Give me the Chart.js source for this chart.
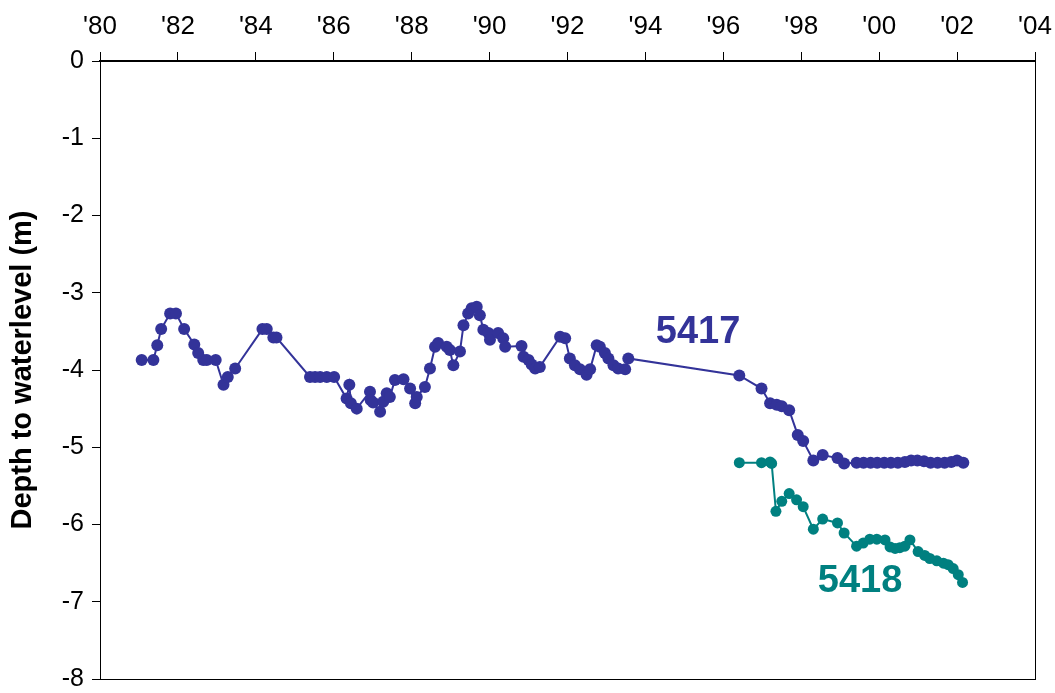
<!DOCTYPE html>
<html>
<head>
<meta charset="utf-8">
<script src="https://cdn.jsdelivr.net/npm/chart.js@4/dist/chart.umd.min.js"></script>
<style>
  html, body { margin: 0; padding: 0; background: #fff; }
  #wrap { position: relative; width: 1055px; height: 693px; }
</style>
</head>
<body>
<div id="wrap"><canvas id="chart"></canvas></div>
<script>
// well 5417
const years5417 = [
  1981.07, 1981.37, 1981.47, 1981.57, 1981.80, 1981.95, 1982.16, 1982.42, 1982.52, 1982.65,
  1982.74, 1982.97, 1983.17, 1983.28, 1983.47, 1984.17, 1984.28, 1984.45, 1984.53, 1985.39,
  1985.52, 1985.65, 1985.82, 1986.01, 1986.33, 1986.40, 1986.44, 1986.59, 1986.93, 1986.95,
  1987.01, 1987.19, 1987.27, 1987.36, 1987.44, 1987.57, 1987.79, 1987.96, 1988.09, 1988.13,
  1988.34, 1988.47, 1988.60, 1988.68, 1988.90, 1988.98, 1989.07, 1989.24, 1989.33, 1989.45,
  1989.54, 1989.67, 1989.75, 1989.84, 1989.97, 1990.01, 1990.22, 1990.35, 1990.40, 1990.82,
  1990.87, 1991.00, 1991.08, 1991.17, 1991.29, 1991.81, 1991.94, 1992.06, 1992.19, 1992.32,
  1992.49, 1992.58, 1992.75, 1992.83, 1992.96, 1993.05, 1993.18, 1993.30, 1993.48, 1993.56,
  1996.41, 1996.98, 1997.20, 1997.37, 1997.50, 1997.69, 1997.91, 1998.05, 1998.31, 1998.55,
  1998.93, 1999.10, 1999.42, 1999.60, 1999.78, 1999.95, 2000.13, 2000.30, 2000.48, 2000.66,
  2000.82, 2000.98, 2001.15, 2001.32, 2001.50, 2001.68, 2001.85, 2002.00, 2002.16
];
const depth5417 = [
  -3.87, -3.87, -3.68, -3.47, -3.27, -3.27, -3.47, -3.67, -3.78, -3.87,
  -3.87, -3.87, -4.19, -4.09, -3.98, -3.47, -3.47, -3.58, -3.58, -4.09,
  -4.09, -4.09, -4.09, -4.09, -4.37, -4.19, -4.43, -4.50, -4.28, -4.39,
  -4.42, -4.54, -4.41, -4.30, -4.35, -4.13, -4.12, -4.24, -4.43, -4.35,
  -4.22, -3.98, -3.70, -3.65, -3.70, -3.74, -3.94, -3.76, -3.42, -3.27,
  -3.20, -3.18, -3.29, -3.48, -3.52, -3.61, -3.52, -3.59, -3.70, -3.69,
  -3.83, -3.87, -3.93, -3.98, -3.96, -3.57, -3.59, -3.85, -3.94, -3.99,
  -4.06, -3.99, -3.68, -3.70, -3.78, -3.85, -3.94, -3.98, -3.99, -3.85,
  -4.07, -4.24, -4.43, -4.45, -4.47, -4.52, -4.84, -4.92, -5.17, -5.10,
  -5.14, -5.21, -5.20, -5.20, -5.20, -5.20, -5.20, -5.20, -5.20, -5.19,
  -5.17, -5.17, -5.18, -5.20, -5.20, -5.20, -5.19, -5.17, -5.20
];

// well 5418
const years5418 = [
  1996.41, 1996.98, 1997.20, 1997.24, 1997.35, 1997.50, 1997.69, 1997.88, 1998.05, 1998.31,
  1998.55, 1998.93, 1999.10, 1999.42, 1999.59, 1999.76, 1999.94, 2000.15, 2000.28, 2000.41,
  2000.53, 2000.66, 2000.79, 2001.00, 2001.17, 2001.30, 2001.48, 2001.65, 2001.77, 2001.90,
  2002.03, 2002.14
];
const depth5418 = [
  -5.20, -5.20, -5.19, -5.21, -5.83, -5.70, -5.60, -5.68, -5.77, -6.06,
  -5.93, -5.98, -6.11, -6.28, -6.24, -6.19, -6.19, -6.20, -6.29, -6.31,
  -6.30, -6.28, -6.20, -6.35, -6.40, -6.44, -6.47, -6.50, -6.52, -6.57,
  -6.65, -6.75
];

// series labels, placed in data units
const seriesLabels = [
  { text: "5417", x: 1995.35, y: -3.51, color: "#333399" },
  { text: "5418", x: 1999.51, y: -6.74, color: "#008080" }
];

const FONT = "'Liberation Sans', Arial, sans-serif";

function toPoints(xs, ys) {
  return xs.map((x, i) => ({ x: x, y: ys[i] }));
}

// frame round the plot area + series labels
const framePlugin = {
  id: "frame",
  afterDraw(chart) {
    const { ctx, chartArea: a, scales } = chart;
    ctx.save();
    ctx.strokeStyle = "#000";
    ctx.lineWidth = 1;
    ctx.strokeRect(a.left + 0.5, a.top, a.right - a.left, a.bottom - a.top + 0.5);
    ctx.lineWidth = 2;
    ctx.beginPath();
    ctx.moveTo(a.left, a.top);
    ctx.lineTo(a.right + 1, a.top);
    ctx.stroke();

    ctx.font = "bold 38px " + FONT;
    ctx.textAlign = "center";
    ctx.textBaseline = "middle";
    seriesLabels.forEach(l => {
      ctx.fillStyle = l.color;
      ctx.fillText(l.text, scales.x.getPixelForValue(l.x), scales.y.getPixelForValue(l.y));
    });
    ctx.restore();
  }
};

const ctx = document.getElementById("chart").getContext("2d");
new Chart(ctx, {
  type: "line",
  data: {
    datasets: [
      {
        label: "5417",
        data: toPoints(years5417, depth5417),
        borderColor: "#333399",
        backgroundColor: "#333399",
        borderWidth: 2,
        pointRadius: 6,
        pointBorderWidth: 0,
        tension: 0
      },
      {
        label: "5418",
        data: toPoints(years5418, depth5418),
        borderColor: "#008080",
        backgroundColor: "#008080",
        borderWidth: 2,
        pointRadius: 5.5,
        pointBorderWidth: 0,
        tension: 0
      }
    ]
  },
  options: {
    responsive: true,
    maintainAspectRatio: false,
    animation: false,
    layout: { padding: { left: 0, top: 0, right: 20, bottom: 14 } },
    plugins: {
      legend: { display: false },
      tooltip: { enabled: false }
    },
    scales: {
      x: {
        type: "linear",
        position: "top",
        min: 1980,
        max: 2004,
        ticks: {
          stepSize: 2,
          color: "#000",
          font: { family: FONT, size: 26 },
          padding: 10,
          maxRotation: 0,
          callback: v => "'" + String(v).slice(2)
        },
        grid: {
          drawOnChartArea: false,
          drawTicks: true,
          tickLength: 9,
          color: "#000",
          lineWidth: 1
        },
        border: { display: true, color: "#000", width: 2 },
        afterFit: s => { s.height = 61; s.paddingLeft = 0; s.paddingRight = 0; }
      },
      y: {
        min: -8,
        max: 0,
        ticks: {
          stepSize: 1,
          color: "#000",
          font: { family: FONT, size: 25 },
          padding: 8
        },
        grid: {
          drawOnChartArea: false,
          drawTicks: true,
          tickLength: 8,
          color: "#000",
          lineWidth: 1
        },
        border: { display: true, color: "#000", width: 1 },
        title: {
          display: true,
          text: "Depth to waterlevel (m)",
          color: "#000",
          font: { family: FONT, size: 29, weight: "bold" },
          padding: { top: 6, bottom: 4 }
        },
        afterFit: s => { s.width = 100; s.paddingTop = 0; s.paddingBottom = 0; }
      }
    }
  },
  plugins: [framePlugin]
});
</script>
</body>
</html>
